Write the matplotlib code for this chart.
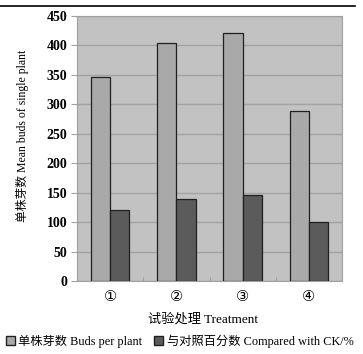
import numpy as np
import matplotlib.pyplot as plt
from matplotlib.patches import Patch
from matplotlib.lines import Line2D

plt.rcParams['font.family'] = ['Liberation Serif', 'Noto Sans CJK SC']

treatments = ['①', '②', '③', '④']
buds_per_plant = [346, 404, 421, 288]
compared_ck = [120, 140, 146, 100]

fig = plt.figure(figsize=(3.63, 3.54), dpi=100)
ax = fig.add_axes([77 / 363, 1 - 281 / 354, 265 / 363, 265 / 354])
ax.set_facecolor('#c2c2c2')

x = np.arange(len(treatments))
w = 0.29
ax.bar(x - w / 2, buds_per_plant, w, color='#a9a9a9', edgecolor='#202020', linewidth=0.9, zorder=3)
ax.bar(x + w / 2, compared_ck, w, color='#5b5b5b', edgecolor='#202020', linewidth=0.9, zorder=3)

ax.set_xlim(-0.5, len(treatments) - 0.5)
ax.set_ylim(0, 450)
ax.set_yticks(np.arange(0, 451, 50))
ax.set_xticks(x)
ax.set_xticklabels(treatments, fontsize=10.5, family=['DejaVu Sans'])
ax.set_xticks(np.arange(0.5, len(treatments) - 0.5, 1), minor=True)
ax.tick_params(axis='x', which='major', length=0, pad=6)
ax.tick_params(axis='x', which='minor', length=3, direction='in', color='#999999')
ax.tick_params(axis='y', length=4, color='#a0a0a0', pad=3, labelsize=10)
for lab in ax.get_yticklabels():
    lab.set_fontweight('bold')
ax.grid(True, axis='y', color='#a3a3a3', linewidth=1.0, zorder=0)
for s in ax.spines.values():
    s.set_color('#a0a0a0')

ax.set_xlabel('试验处理 Treatment', fontsize=9.5)
ax.xaxis.set_label_coords(0.475, -0.12)
ax.set_ylabel('单株芽数 Mean buds of single plant', fontsize=8.5)
ax.yaxis.set_label_coords(-0.18, 0.547)

handles = [Patch(facecolor='#a9a9a9', edgecolor='#202020', label='单株芽数 Buds per plant'),
           Patch(facecolor='#5b5b5b', edgecolor='#202020', label='与对照百分数 Compared with CK/%')]
fig.legend(handles=handles, loc='center', bbox_to_anchor=(0.495, 1 - 341 / 354), ncol=2,
           frameon=False, prop={'size': 8.8}, handlelength=0.7, handleheight=0.7,
           handletextpad=0.3, columnspacing=1.0)

fig.add_artist(Line2D([0, 355 / 363], [1 - 6 / 354, 1 - 6 / 354], color='black', linewidth=1.2))

fig.savefig('out.png', dpi=100)
